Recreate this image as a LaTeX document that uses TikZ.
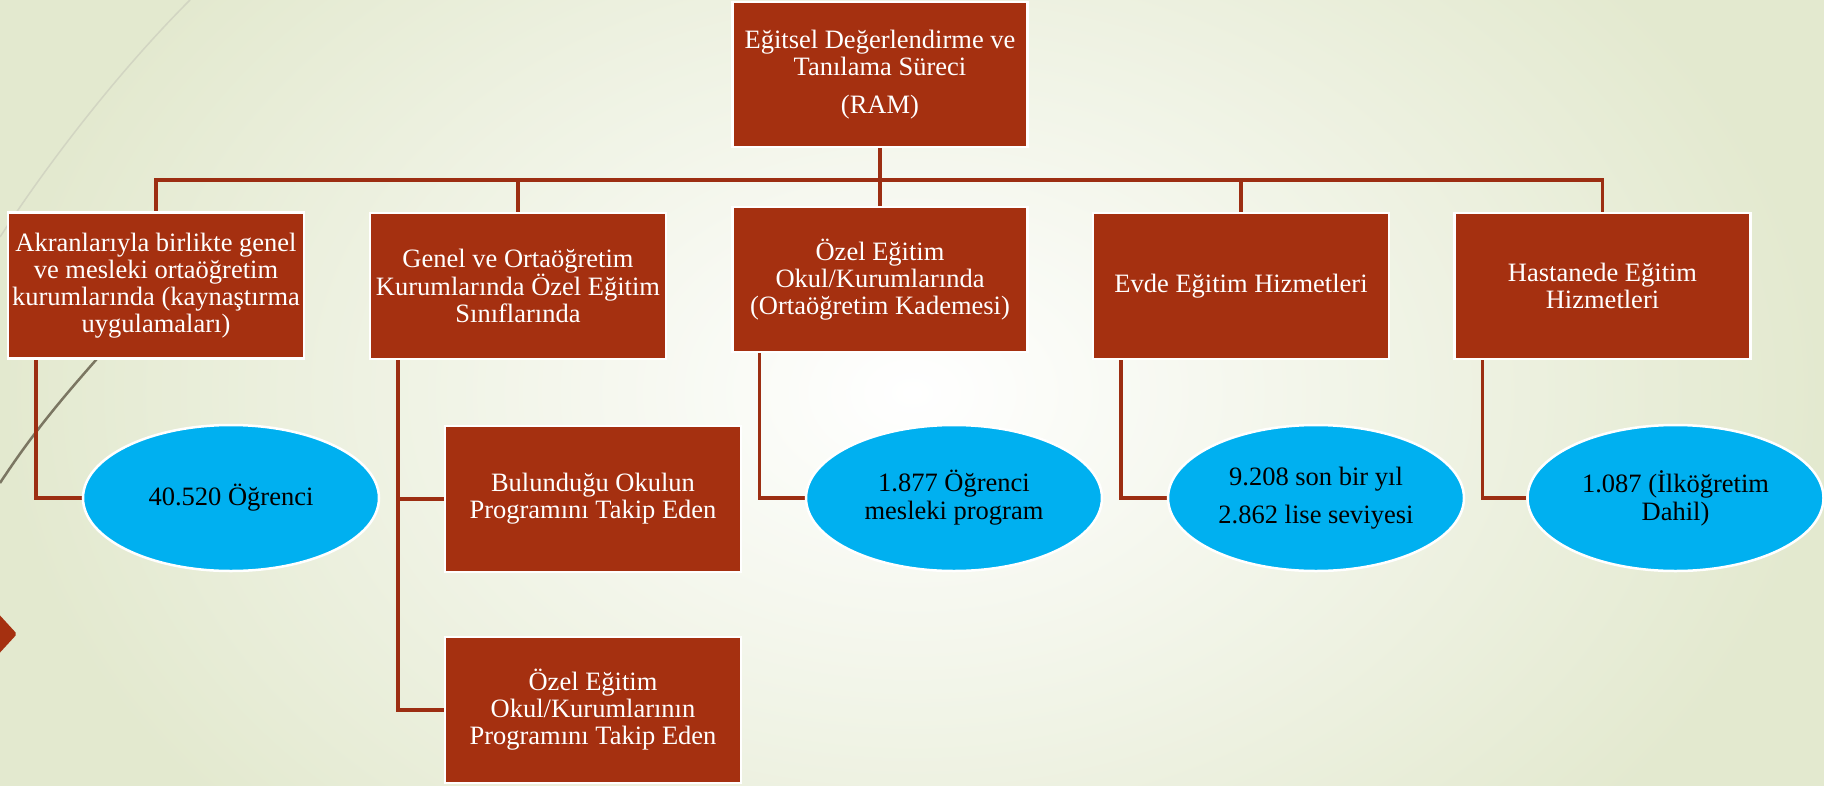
\documentclass[tikz,border=0pt]{standalone}
\usepackage{fontspec}
\setmainfont{Liberation Serif}
\usetikzlibrary{shapes.geometric}
\definecolor{rust}{HTML}{A53010}
\definecolor{linkred}{HTML}{9C2E12}
\definecolor{sky}{HTML}{00B0F0}
\definecolor{bgedge}{HTML}{E3E9CF}
\definecolor{wispl}{HTML}{D2D5C2}
\definecolor{wispd}{HTML}{7B7662}
\pgfdeclarelayer{bg}
\pgfdeclarelayer{lines}
\pgfsetlayers{bg,lines,main}
\begin{document}
\begin{tikzpicture}[x=1pt,y=-1pt,
  box/.style={rectangle,fill=rust,draw=white,line width=2.5pt,text=white,inner sep=0pt,align=center,
    font=\rmfamily\fontsize{26.5}{27}\selectfont,minimum width=296pt,minimum height=146pt},
  oval/.style={ellipse,fill=sky,draw=white,line width=2.5pt,text=black,inner sep=0pt,align=center,
    font=\rmfamily\fontsize{26.5}{28}\selectfont,minimum width=296pt,minimum height=146pt},
  link/.style={draw=linkred,line width=3.5pt}]
\useasboundingbox (0,0) rectangle (1824,785);
\begin{pgfonlayer}{bg}
  \begin{scope}
    \clip (0,0) rectangle (1824,785);
    \shade[inner color=white, outer color=bgedge] (0,-250) rectangle (1824,1035);
    \draw[wispl, line width=1.5pt] (190,0) .. controls (120,70) and (50,160) .. (0,237);
    \draw[wispd, line width=2.5pt] (0,483) .. controls (35,430) and (65,393) .. (150,300);
    \fill[rust, rounded corners=2pt] (-5,610) -- (17,634) -- (-5,658) -- cycle;
  \end{scope}
\end{pgfonlayer}

\node[box, minimum width=295pt, minimum height=145pt] (ram) at (880,74.5)
  {Eğitsel Değerlendirme ve\\Tanılama Süreci\\[11pt](RAM)};
\node[box] (b1) at (156,285.5) {Akranlarıyla birlikte genel\\ve mesleki ortaöğretim\\kurumlarında (kaynaştırma\\uygulamaları)};
\node[box] (b2) at (518,286) {Genel ve Ortaöğretim\\Kurumlarında Özel Eğitim\\Sınıflarında};
\node[box, minimum width=295pt, minimum height=145pt] (m3) at (880,279.5) {Özel Eğitim\\Okul/Kurumlarında\\(Ortaöğretim Kademesi)};
\node[box] (b4) at (1241,286) {Evde Eğitim Hizmetleri};
\node[box] (b5) at (1602.5,286) {Hastanede Eğitim\\Hizmetleri};
\node[box] (s1) at (593,499) {Bulunduğu Okulun\\Programını Takip Eden};
\node[box] (s2) at (593,710) {Özel Eğitim\\Okul/Kurumlarının\\Programını Takip Eden};
\node[oval] (e1) at (231,498) {40.520 Öğrenci};
\node[oval] (e3) at (954,498) {1.877 Öğrenci\\mesleki program};
\node[oval] (e4) at (1316,498) {9.208 son bir yıl\\[10pt]2.862 lise seviyesi};
\node[oval] (e5) at (1675.5,498) {1.087 (İlköğretim\\Dahil)};

\begin{pgfonlayer}{lines}
  \coordinate (bus) at (880,180);
  \draw[link] (b1.north) -- (b1.north |- bus) -- (b5.north |- bus) -- (b5.north);
  \draw[link] (b2.north) -- (b2.north |- bus);
  \draw[link] (b4.north) -- (b4.north |- bus);
  \draw[link] (ram.south) -- (m3.north);
  \draw[link] ([xshift=29pt]b1.south west) |- (e1.west);
  \draw[link] ([xshift=29pt]b2.south west) |- (s1.west);
  \draw[link] ([xshift=29pt]b2.south west) |- (s2.west);
  \draw[link] ([xshift=28pt]m3.south west) |- (e3.west);
  \draw[link] ([xshift=29pt]b4.south west) |- (e4.west);
  \draw[link] ([xshift=29pt]b5.south west) |- (e5.west);
\end{pgfonlayer}
\end{tikzpicture}
\end{document}
